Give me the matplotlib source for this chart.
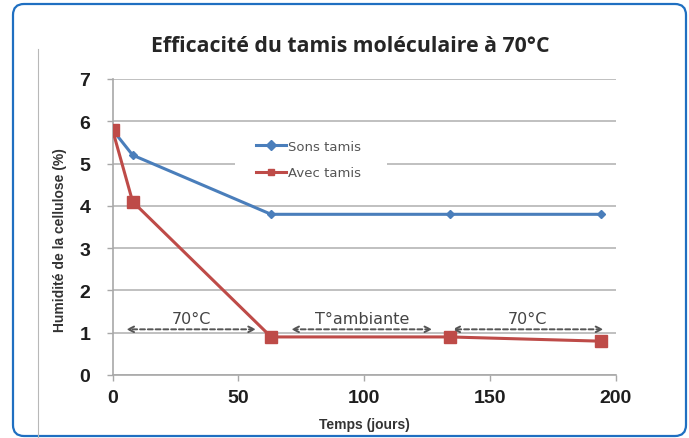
import matplotlib
matplotlib.use("Agg")
import matplotlib.pyplot as plt
from matplotlib.patches import FancyBboxPatch, Rectangle
from matplotlib.lines import Line2D

# Data
days_sans = [0, 8, 63, 134, 194]
hum_sans = [5.8, 5.2, 3.8, 3.8, 3.8]
days_avec = [0, 8, 63, 134, 194]
hum_avec = [5.8, 4.1, 0.9, 0.9, 0.8]
series_labels = ["Sons tamis", "Avec tamis"]
periods = [(5.5, 57, "70°C"), (71, 127, "T°ambiante"), (135, 195, "70°C")]
xticks = [0, 50, 100, 150, 200]
yticks = [0, 1, 2, 3, 4, 5, 6, 7]

W, H = 689, 439
fig = plt.figure(figsize=(W / 100, H / 100), dpi=100)
fig.patch.set_facecolor("white")

# overlay in pixel coordinates for the frame
ov = fig.add_axes([0, 0, 1, 1], zorder=-1)
ov.set_xlim(0, W)
ov.set_ylim(H, 0)
ov.axis("off")
ov.add_patch(FancyBboxPatch((13, 5), 686 - 13, 437 - 5,
                            boxstyle="round,pad=0,rounding_size=11",
                            fill=False, edgecolor="#1f6fc1", linewidth=1.6))
ov.add_line(Line2D([38, 38], [50, 439], color="#b8b8b8", lw=0.8))

fig.text(350 / W, 1 - 46 / H, "Efficacité du tamis moléculaire à 70°C",
         ha="center", va="center", fontsize=15.3, fontweight="bold",
         family="Open Sans", color="#262626")

ax = fig.add_axes([112.5 / W, 1 - 376 / H, (616 - 112.5) / W, (376 - 80) / H])
ax.set_xlim(0, 200)
ax.set_ylim(0, 7)
ax.set_xticks(xticks)
ax.set_yticks(yticks)
ax.grid(axis="y", color="#b5b5b5", lw=1.2)
ax.set_axisbelow(True)
for s in ["top", "right"]:
    ax.spines[s].set_visible(False)
for s in ["left", "bottom"]:
    ax.spines[s].set_color("#a8a8a8")
    ax.spines[s].set_linewidth(1.2)
ax.tick_params(axis="both", colors="#a8a8a8", length=4, width=1.0,
               labelcolor="#1e1e1e", labelsize=14)
for lab in ax.get_xticklabels() + ax.get_yticklabels():
    lab.set_fontweight("bold")
    lab.set_family("Liberation Sans")
ax.tick_params(axis="y", pad=12)
ax.tick_params(axis="x", pad=6)

l1, = ax.plot(days_sans, hum_sans, color="#4a7ebb", lw=2.2, marker="D",
              markersize=4.5, label=series_labels[0], zorder=3)
l2, = ax.plot(days_avec, hum_avec, color="#be4b48", lw=2.2, marker="s",
              markersize=8.5, label=series_labels[1], zorder=3)

# white legend background hiding the gridline
ax.add_patch(Rectangle((235, 133), 387 - 235, 55, transform=ov.transData,
                       facecolor="white", edgecolor="none", zorder=1))

leg = ax.legend(handles=[l1, l2], loc="upper left",
                bbox_to_anchor=((256 - 112.5) / 503.5, (376 - 141) / 296),
                frameon=False, handlelength=2.3, handletextpad=0.15,
                labelspacing=1.0, borderpad=0, borderaxespad=0,
                prop={"family": "DejaVu Sans", "size": 9.5})
for t in leg.get_texts():
    t.set_color("#555555")
for h in leg.legend_handles:
    h.set_markersize(5)

for x0, x1, txt in periods:
    ax.annotate("", xy=(x0, 1.08), xytext=(x1, 1.08),
                arrowprops=dict(arrowstyle="<->", linestyle=(0, (2.5, 1.5)),
                                color="#555555", lw=1.4, shrinkA=0, shrinkB=0))
    ax.text((x0 + x1) / 2, 1.17, txt, ha="center", va="bottom", fontsize=11.5,
            color="#444444", family="DejaVu Sans")

ax.set_xlabel("Temps (jours)", fontsize=10, fontweight="bold", color="#333333",
              labelpad=8, family="Liberation Sans")
ax.set_ylabel("Humidité de la cellulose (%)", fontsize=10, fontweight="bold",
              color="#333333", family="Liberation Sans")
ax.yaxis.set_label_coords((67 - 112.5) / 503.5, (376 - 240) / 296)

fig.savefig("out.png", dpi=100, facecolor="white")
